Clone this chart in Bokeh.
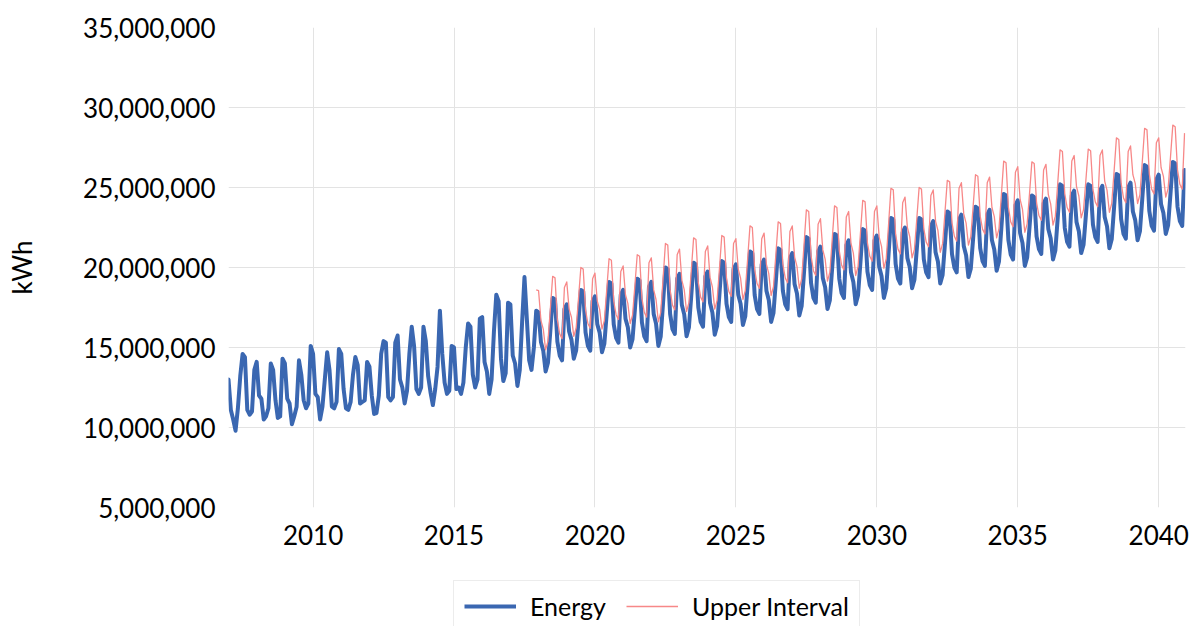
from bokeh.plotting import figure
from bokeh.layouts import column
from bokeh.models import (ColumnDataSource, FixedTicker, NumeralTickFormatter,
                          Legend, LegendItem, Range1d)
from bokeh.embed import file_html
from bokeh.resources import INLINE

# ---------------- data (values in millions of kWh, monthly) ----------------
first_year = 2007
x_ticks = [2010, 2015, 2020, 2025, 2030, 2035, 2040]
y_ticks = [5_000_000, 10_000_000, 15_000_000, 20_000_000, 25_000_000, 30_000_000, 35_000_000]

# Jan 2007 - Nov 2017 (actuals)
energy_history = [
    13.0, 11.1, 10.5, 9.8, 11.2, 13.2, 14.6, 14.4, 11.1, 10.8, 11.0, 13.6,    # 2007
    14.1, 12.0, 11.8, 10.5, 10.7, 11.2, 14.0, 13.6, 11.7, 10.6, 10.7, 14.3,   # 2008
    14.0, 11.8, 11.5, 10.2, 10.7, 11.3, 14.2, 13.3, 11.7, 11.2, 11.5, 15.1,   # 2009
    14.6, 12.1, 11.9, 10.5, 11.3, 13.0, 14.7, 13.6, 11.3, 11.2, 11.6, 14.9,   # 2010
    14.6, 12.4, 11.2, 11.1, 11.6, 13.3, 14.4, 13.9, 11.5, 11.6, 11.7, 14.1,   # 2011
    13.8, 12.0, 10.85, 10.9, 12.0, 14.6, 15.4, 15.3, 11.9, 11.7, 11.9, 15.3,  # 2012
    15.75, 13.0, 12.5, 11.5, 12.3, 14.6, 16.3, 15.1, 12.4, 12.1, 12.5, 16.3,  # 2013
    15.4, 13.2, 12.2, 11.4, 12.4, 13.8, 17.3, 14.6, 12.8, 12.1, 12.3, 15.1,   # 2014
    15.0, 12.4, 12.5, 12.1, 12.8, 15.0, 16.5, 16.3, 13.3, 12.5, 13.0, 16.8,   # 2015
    16.9, 14.1, 13.5, 12.1, 13.0, 16.0, 18.3, 17.9, 14.3, 12.9, 13.4, 17.8,   # 2016
    17.7, 14.5, 14.0, 12.6, 13.6, 16.6, 19.4, 16.8, 14.2, 13.6, 15.0,         # 2017 (Jan-Nov)
]

# Dec 2017 - Dec 2040 (forecast)
energy_forecast = [
    17.3,                                                                          # Dec 2017
    17.2, 15.35, 14.8, 13.5, 14.05, 16.03, 18.1, 18.0, 15.37, 14.5, 14.2, 17.4,    # 2018
    17.7, 16.0, 15.49, 14.3, 14.82, 16.67, 18.6, 18.5, 15.94, 15.1, 14.8, 17.9,    # 2019
    18.2, 16.45, 15.93, 14.7, 15.23, 17.12, 19.1, 19.0, 16.44, 15.6, 15.3, 18.3,   # 2020
    18.6, 16.8, 16.26, 15.0, 15.52, 17.37, 19.3, 19.2, 16.57, 15.7, 15.4, 18.8,    # 2021
    19.1, 17.1, 16.5, 15.1, 15.69, 17.8, 20.0, 19.9, 17.1, 16.15, 15.85, 19.3,     # 2022
    19.6, 17.65, 17.07, 15.7, 16.25, 18.23, 20.3, 20.2, 17.5, 16.6, 16.3, 19.45,   # 2023
    19.75, 17.78, 17.18, 15.8, 16.35, 18.33, 20.4, 20.3, 17.74, 16.9, 16.6, 19.9,  # 2024
    20.2, 18.3, 17.73, 16.4, 16.95, 18.93, 21.0, 20.9, 18.27, 17.4, 17.1, 20.2,    # 2025
    20.5, 18.55, 17.97, 16.6, 17.15, 19.13, 21.2, 21.1, 18.54, 17.7, 17.4, 20.6,   # 2026
    20.9, 18.95, 18.37, 17.0, 17.59, 19.7, 21.9, 21.8, 19.03, 18.1, 17.8, 21.0,    # 2027
    21.3, 19.35, 18.77, 17.4, 17.96, 19.99, 22.1, 22.0, 19.3, 18.4, 18.1, 21.4,    # 2028
    21.7, 19.7, 19.1, 17.7, 18.26, 20.29, 22.4, 22.3, 19.74, 18.9, 18.6, 21.7,     # 2029
    22.0, 20.05, 19.47, 18.1, 18.7, 20.85, 23.1, 23.0, 20.23, 19.3, 19.0, 22.2,    # 2030
    22.5, 20.6, 20.03, 18.7, 19.23, 21.12, 23.1, 23.0, 20.51, 19.7, 19.4, 22.6,    # 2031
    22.9, 20.95, 20.37, 19.0, 19.54, 21.48, 23.5, 23.4, 20.84, 20.0, 19.7, 23.0,   # 2032
    23.3, 21.35, 20.77, 19.4, 19.93, 21.82, 23.8, 23.7, 21.21, 20.4, 20.1, 23.3,   # 2033
    23.6, 21.7, 21.13, 19.8, 20.38, 22.44, 24.6, 24.5, 21.73, 20.8, 20.5, 23.9,    # 2034
    24.2, 22.15, 21.54, 20.1, 20.63, 22.52, 24.5, 24.4, 21.95, 21.15, 20.85, 24.0, # 2035
    24.3, 22.4, 21.83, 20.5, 21.06, 23.09, 25.2, 25.1, 22.47, 21.6, 21.3, 24.5,    # 2036
    24.8, 22.85, 22.27, 20.9, 21.42, 23.27, 25.2, 25.1, 22.68, 21.9, 21.6, 24.8,   # 2037
    25.1, 23.15, 22.57, 21.2, 21.76, 23.76, 25.85, 25.75, 23.02, 22.1, 21.8, 25.0, # 2038
    25.3, 23.5, 22.96, 21.7, 22.26, 24.29, 26.4, 26.3, 23.53, 22.6, 22.3, 25.5,    # 2039
    25.8, 23.95, 23.4, 22.1, 22.64, 24.58, 26.6, 26.5, 23.8, 22.9, 22.6, 26.1,     # 2040
]

# Dec 2017 - Dec 2040 (upper confidence bound)
upper_interval = [
    18.6,                                                                          # Dec 2017
    18.55, 16.7, 16.15, 14.85, 15.4, 17.38, 19.45, 19.35, 16.72, 15.85, 15.55, 18.75,   # 2018
    19.1, 17.4, 16.89, 15.7, 16.22, 18.07, 20.0, 19.9, 17.34, 16.5, 16.2, 19.3,         # 2019
    19.65, 17.9, 17.38, 16.15, 16.68, 18.57, 20.55, 20.45, 17.89, 17.05, 16.75, 19.75,  # 2020
    20.1, 18.3, 17.76, 16.5, 17.02, 18.87, 20.8, 20.7, 18.07, 17.2, 16.9, 20.3,         # 2021
    20.6, 18.6, 18.0, 16.6, 17.19, 19.3, 21.5, 21.4, 18.6, 17.65, 17.35, 20.8,          # 2022
    21.15, 19.2, 18.62, 17.25, 17.8, 19.78, 21.85, 21.75, 19.05, 18.15, 17.85, 21.0,    # 2023
    21.35, 19.38, 18.78, 17.4, 17.95, 19.93, 22.0, 21.9, 19.34, 18.5, 18.2, 21.5,       # 2024
    21.8, 19.9, 19.33, 18.0, 18.55, 20.53, 22.6, 22.5, 19.87, 19.0, 18.7, 21.8,         # 2025
    22.15, 20.2, 19.62, 18.25, 18.8, 20.78, 22.85, 22.75, 20.19, 19.35, 19.05, 22.25,   # 2026
    22.6, 20.65, 20.07, 18.7, 19.29, 21.4, 23.6, 23.5, 20.73, 19.8, 19.5, 22.7,         # 2027
    23.05, 21.1, 20.52, 19.15, 19.71, 21.74, 23.85, 23.75, 21.05, 20.15, 19.85, 23.15,  # 2028
    23.5, 21.5, 20.9, 19.5, 20.06, 22.09, 24.2, 24.1, 21.54, 20.7, 20.4, 23.5,          # 2029
    23.85, 21.9, 21.32, 19.95, 20.55, 22.7, 24.95, 24.85, 22.08, 21.15, 20.85, 24.05,   # 2030
    24.4, 22.5, 21.93, 20.6, 21.13, 23.02, 25.0, 24.9, 22.41, 21.6, 21.3, 24.5,         # 2031
    24.85, 22.9, 22.32, 20.95, 21.49, 23.43, 25.45, 25.35, 22.79, 21.95, 21.65, 24.95,  # 2032
    25.3, 23.35, 22.77, 21.4, 21.93, 23.82, 25.8, 25.7, 23.21, 22.4, 22.1, 25.3,        # 2033
    25.65, 23.75, 23.18, 21.85, 22.43, 24.49, 26.65, 26.55, 23.78, 22.85, 22.55, 25.95, # 2034
    26.3, 24.25, 23.64, 22.2, 22.73, 24.62, 26.6, 26.5, 24.05, 23.25, 22.95, 26.1,      # 2035
    26.45, 24.55, 23.98, 22.65, 23.21, 25.24, 27.35, 27.25, 24.62, 23.75, 23.45, 26.65, # 2036
    27.0, 25.05, 24.47, 23.1, 23.62, 25.47, 27.4, 27.3, 24.88, 24.1, 23.8, 27.0,        # 2037
    27.35, 25.4, 24.82, 23.45, 24.01, 26.01, 28.1, 28.0, 25.27, 24.35, 24.05, 27.25,    # 2038
    27.6, 25.8, 25.26, 24.0, 24.56, 26.59, 28.7, 28.6, 25.83, 24.9, 24.6, 27.8,         # 2039
    28.1, 26.25, 25.7, 24.4, 24.94, 26.88, 28.9, 28.8, 26.1, 25.2, 24.9, 28.4,          # 2040
]

series_names = ["Energy", "Upper Interval"]
series_colors = ["#3a67b1", "#f78888"]
series_widths = [4, 1.3]

# ---------------- build sources ----------------
energy_vals = [v * 1_000_000 for v in energy_history + energy_forecast]
energy_x = [first_year + i / 12 for i in range(len(energy_vals))]
offset = len(energy_history)
upper_vals = [v * 1_000_000 for v in upper_interval]
upper_x = [first_year + (offset + i) / 12 for i in range(len(upper_vals))]

src_energy = ColumnDataSource(dict(x=energy_x, y=energy_vals))
src_upper = ColumnDataSource(dict(x=upper_x, y=upper_vals))
sources = [src_energy, src_upper]

FONT = "Lato"
TXT = "#000000"
GRID = "#e3e3e3"

# ---------------- main chart ----------------
p = figure(width=1197, height=575, output_backend="svg", toolbar_location=None,
           x_range=Range1d(2007.0, 2040.95), y_range=Range1d(5_000_000, 35_000_000),
           min_border_left=228, min_border_right=12, min_border_top=27, min_border_bottom=68)
p.outline_line_color = None
p.background_fill_color = "white"
p.border_fill_color = "white"

for src, c, w in zip(sources, series_colors, series_widths):
    p.line("x", "y", source=src, line_color=c, line_width=w, line_join="round",
           line_cap="round" if w > 2 else "butt")

p.xaxis.ticker = FixedTicker(ticks=x_ticks)
p.yaxis.ticker = FixedTicker(ticks=y_ticks)
p.yaxis.formatter = NumeralTickFormatter(format="0,0")
for ax in (p.xaxis[0], p.yaxis[0]):
    ax.axis_line_color = None
    ax.major_tick_line_color = None
    ax.minor_tick_line_color = None
    ax.major_tick_out = 0
    ax.major_tick_in = 0
    ax.major_label_text_font = FONT
    ax.major_label_text_font_size = "26px"
    ax.major_label_text_color = TXT
p.yaxis.major_label_standoff = 13
p.xaxis.major_label_standoff = 17
p.yaxis.axis_label = "kWh"
p.yaxis.axis_label_text_font = FONT
p.yaxis.axis_label_text_font_size = "26px"
p.yaxis.axis_label_text_font_style = "normal"
p.yaxis.axis_label_text_color = TXT
p.yaxis.axis_label_standoff = 42

p.xgrid.ticker = FixedTicker(ticks=x_ticks)
p.ygrid.ticker = FixedTicker(ticks=y_ticks[1:-1])
p.xgrid.grid_line_color = GRID
p.ygrid.grid_line_color = GRID
p.xgrid.grid_line_width = 1
p.ygrid.grid_line_width = 1

# ---------------- legend strip below the chart ----------------
# (same series, drawn out of this strip's visible range; only the legend shows)
lf = figure(width=1197, height=51, output_backend="svg", toolbar_location=None,
            x_range=Range1d(0, 1), y_range=Range1d(0, 1),
            x_axis_type=None, y_axis_type=None,
            min_border_left=228, min_border_right=12, min_border_top=0, min_border_bottom=0)
lf.outline_line_color = None
lf.xgrid.visible = False
lf.ygrid.visible = False
lf.background_fill_color = "white"
lf.border_fill_color = "white"
leg_r = [lf.line("x", "y", source=src, line_color=c, line_width=w)
         for src, c, w in zip(sources, series_colors, series_widths)]

legend = Legend(items=[LegendItem(label=n, renderers=[r]) for n, r in zip(series_names, leg_r)],
                orientation="horizontal", location=(225, -6))
legend.label_text_font = FONT
legend.label_text_font_size = "25px"
legend.label_text_color = TXT
legend.glyph_width = 52
legend.glyph_height = 24
legend.label_standoff = 14
legend.spacing = 20
legend.padding = 10
legend.margin = 0
legend.border_line_color = "#d9d9d9"
legend.border_line_width = 1
legend.background_fill_color = "white"
legend.background_fill_alpha = 1
lf.add_layout(legend)

open("out.html", "w").write(file_html(column(p, lf, spacing=0), INLINE))
